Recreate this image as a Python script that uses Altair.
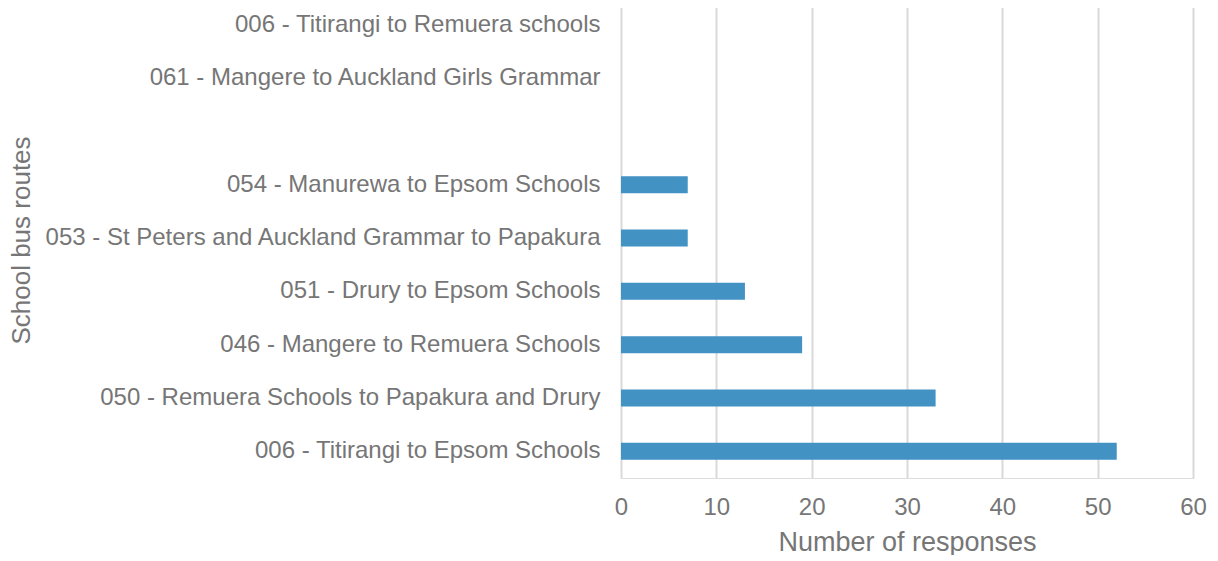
import altair as alt
import pandas as pd

routes = [
    "006 - Titirangi to Remuera schools",
    "061 - Mangere to Auckland Girls Grammar",
    " ",
    "054 - Manurewa to Epsom Schools",
    "053 - St Peters and Auckland Grammar to Papakura",
    "051 - Drury to Epsom Schools",
    "046 - Mangere to Remuera Schools",
    "050 - Remuera Schools to Papakura and Drury",
    "006 - Titirangi to Epsom Schools",
]
responses = [0, 0, None, 7, 7, 13, 19, 33, 52]
ticks = [0, 10, 20, 30, 40, 50, 60]

df = pd.DataFrame({"route": routes, "responses": responses})
df = df[df["responses"].notna()]

grey = "#767676"
font = "Liberation Sans"

chart = (
    alt.Chart(df)
    .mark_bar(color="#4292c4", size=17)
    .encode(
        x=alt.X(
            "responses:Q",
            title="Number of responses",
            scale=alt.Scale(domain=[0, 60], nice=False),
            axis=alt.Axis(
                values=ticks,
                grid=True,
                gridColor="#d9d9d9",
                gridWidth=2,
                domain=False,
                ticks=False,
                labelFlush=False,
                labelFontSize=24,
                labelColor=grey,
                labelPadding=17,
                titleFontSize=27,
                titleColor=grey,
                titleFontWeight="normal",
                titlePadding=10,
                labelFont=font,
                titleFont=font,
            ),
        ),
        y=alt.Y(
            "route:N",
            title="School bus routes",
            scale=alt.Scale(domain=routes, paddingInner=0, paddingOuter=0),
            axis=alt.Axis(
                grid=False,
                domain=False,
                ticks=False,
                labelFontSize=24,
                labelColor=grey,
                labelPadding=21,
                labelLimit=800,
                titleFontSize=26,
                titleColor=grey,
                titleFontWeight="normal",
                titleX=-587,
                titleY=242,
                titleAngle=270,
                titleBaseline="bottom",
                labelFont=font,
                titleFont=font,
            ),
        ),
    )
    .properties(width=572, height=480)
    .configure_view(strokeWidth=0)
    .configure(padding={"left": 0, "top": -10, "right": 0, "bottom": 0})
)

chart.save("out.html", embed_options={"renderer": "svg", "actions": False})
